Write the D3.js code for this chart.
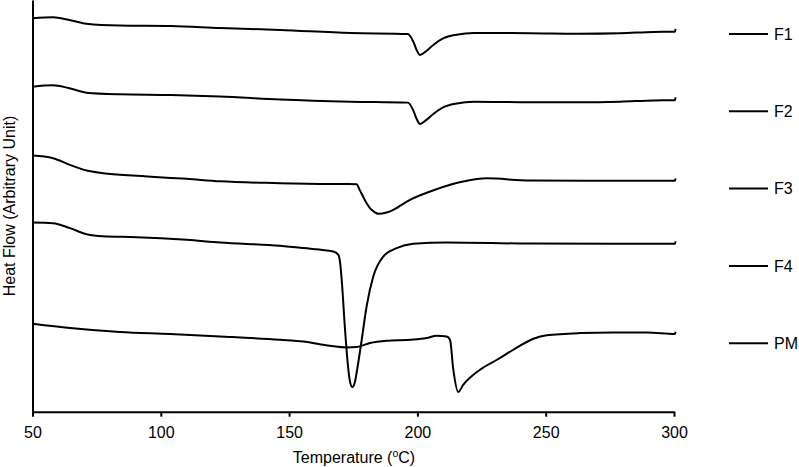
<!DOCTYPE html>
<html>
<head>
<meta charset="utf-8">
<script src="https://cdn.jsdelivr.net/npm/d3@7"></script>
<style>
  html, body { margin: 0; padding: 0; background: #fff; }
  svg { display: block; font-family: "Liberation Sans", Arial, sans-serif; }
</style>
</head>
<body>
<svg id="chart" width="799" height="467"></svg>
<script>
// ---- Data (temperature in °C, heat flow in arbitrary units) ----
const categories = ["F1", "F2", "F3", "F4", "PM"];
const xTicks = [50, 100, 150, 200, 250, 300];

const F1 = [[50,393.7],[58,394.7],[64,392.3],[71,388.3],[84,386.5],[104,386],[123,384],[146.5,382],[174,379],[196.3,378],[198.4,370.3],[199.7,362],[201,357],[203.5,361],[206.2,367],[210,373.5],[215.3,377.3],[222,379],[244,378.8],[263,378.3],[279,378.8],[292,380],[300.4,380.3],[300.6,383]];
const F2 = [[50,325.3],[58,326.7],[64,324],[71,319.3],[84,317.7],[104,317],[123,315.5],[146.5,312.5],[174,310.3],[196.3,309.3],[198.4,301.5],[199.7,293],[201,288],[203.5,292],[206.2,298],[210,304.5],[215.3,308.5],[222,310.3],[244,309.7],[263,309.7],[279,310.3],[292,311.5],[300.4,311.8],[300.6,314.5]];
const F3 = [[50,256.3],[58,253.7],[64.6,247],[71.1,241.3],[77.5,238.7],[90.6,236],[110.1,233],[123.1,230.5],[146.5,228.7],[162,227.9],[176.3,227.7],[177.5,222],[180.2,208.7],[181.5,203.7],[183,200.3],[184.8,198],[188,199.3],[190.6,202],[197.1,212],[207.5,222.7],[217.9,230.3],[227,233.5],[243.9,231.3],[266,231.2],[279,231.2],[300.4,231],[300.6,233.5]];
const F4 = [[50,189.3],[58,188.7],[64.6,183.7],[71.1,177.5],[77.5,175.5],[90.6,174.7],[110.1,172],[123.1,169.3],[146.5,166],[155.5,163.7],[167.2,160.3],[169.2,157],[169.9,148.7],[170.5,132],[171.8,82],[173.1,42],[173.7,30.3],[174.6,24.7],[175.7,30.3],[176.3,38.7],[178.3,72],[180.2,105.3],[182.8,135.3],[186.7,155.3],[191.9,163.7],[198.4,168],[211.4,169.3],[243.9,168.2],[279,168],[300.4,168],[300.6,170.5]];
const PM = [[50,88],[64.6,83.7],[84.1,79.7],[103.6,77.7],[123.1,75.3],[146.5,72],[155.5,70.3],[165.9,66],[172.4,64.3],[176.3,64.7],[181.5,68.7],[188,71],[197.1,72],[203.6,73.7],[207.5,76],[211.4,75.3],[212.7,72],[214,42],[215.9,19.7],[217.9,27],[224.4,42],[231,52],[237.4,62],[245.2,73],[250.4,76.5],[263.4,78.7],[276.3,79.3],[289.4,79.3],[300.4,77.7],[300.6,80]];

const seriesData = [F1, F2, F3, F4, PM];

// ---- Layout ----
const svg = d3.select("#chart");
const x = d3.scaleLinear().domain([50, 300]).range([32.5, 674]);
const y = d3.scaleLinear().domain([0, 412]).range([411.7, 0]);

// Curves
const line = d3.line()
  .x(d => x(d[0]))
  .y(d => y(d[1]))
  .curve(d3.curveMonotoneX);

svg.append("g").selectAll("path")
  .data(seriesData)
  .join("path")
  .attr("d", line)
  .attr("fill", "none")
  .attr("stroke", "#000")
  .attr("stroke-width", 2)
  .attr("stroke-linejoin", "round");

// X axis
const xAxis = svg.append("g")
  .attr("transform", `translate(0,${y(0)})`)
  .call(d3.axisBottom(x).tickValues(xTicks).tickSize(5).tickSizeOuter(0).tickPadding(10));
xAxis.select(".domain").attr("stroke", "#000").attr("stroke-width", 2);
xAxis.selectAll(".tick line").attr("stroke", "#000").attr("stroke-width", 2);
xAxis.selectAll(".tick text")
  .attr("font-size", 16)
  .attr("font-family", "'Liberation Sans', Arial, sans-serif")
  .attr("fill", "#000");

// Y axis (line only)
const yAxis = svg.append("g")
  .attr("transform", `translate(${x(50)},0)`)
  .call(d3.axisLeft(y).tickValues([]).tickSizeOuter(0));
yAxis.select(".domain").attr("stroke", "#000").attr("stroke-width", 2);

// Axis titles
const xt = svg.append("text")
  .attr("x", 354)
  .attr("y", 463)
  .attr("text-anchor", "middle")
  .attr("font-size", 16)
  .attr("fill", "#000");
xt.append("tspan").text("Temperature (");
xt.append("tspan").attr("font-size", 10.5).attr("dy", -6).text("o");
xt.append("tspan").attr("dy", 6).text("C)");

svg.append("text")
  .attr("transform", "translate(15,206) rotate(-90)")
  .attr("text-anchor", "middle")
  .attr("font-size", 16)
  .attr("fill", "#000")
  .text("Heat Flow (Arbitrary Unit)");

// Legend
const legend = svg.append("g").selectAll("g")
  .data(categories)
  .join("g")
  .attr("transform", (d, i) => `translate(729,${34 + i * 77.3})`);
legend.append("line")
  .attr("x1", 0).attr("x2", 39)
  .attr("stroke", "#000").attr("stroke-width", 2);
legend.append("text")
  .attr("x", 45)
  .attr("dy", "0.36em")
  .attr("font-size", 16)
  .attr("fill", "#000")
  .text(d => d);
</script>
</body>
</html>
